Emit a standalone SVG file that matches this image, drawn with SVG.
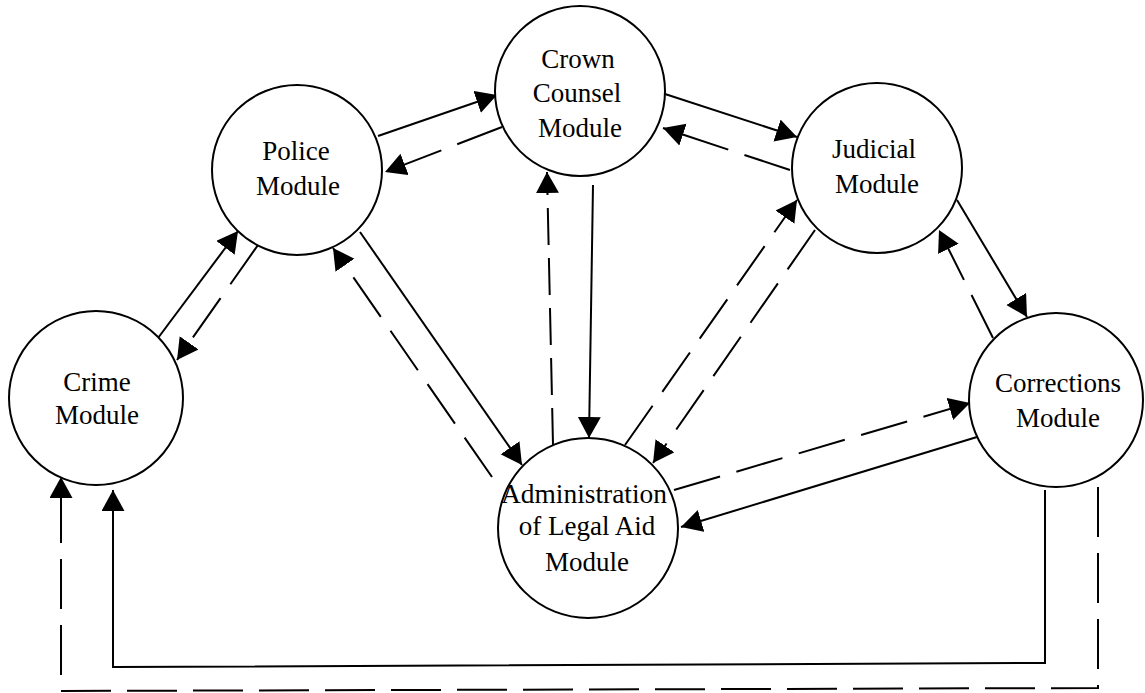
<svg xmlns="http://www.w3.org/2000/svg" width="1145" height="693" viewBox="0 0 1145 693">
  <style>
    .node { fill: #ffffff; stroke: #000000; stroke-width: 2; }
    .label { font-family: "Liberation Serif", "Times New Roman", serif; font-size: 27px; fill: #000000; text-anchor: middle; }
    .flow { fill: none; stroke: #000000; stroke-width: 2; }
    .solid { marker-end: url(#head); }
    .dash { stroke-dasharray: 48 17; marker-end: url(#head); }
    .dash-v { stroke-dasharray: 37 13; marker-end: url(#head); }
    .dash-loop { stroke-dasharray: 50 16; marker-end: url(#head); }
  </style>
  <defs>
    <marker id="head" markerUnits="userSpaceOnUse" markerWidth="22" markerHeight="24" refX="21" refY="11.5" orient="auto">
      <path d="M0,0 L21,11.5 L0,23 z" fill="#000000"/>
    </marker>
  </defs>

  <rect width="1145" height="693" fill="#ffffff"/>

  <!-- connectors -->
  <g id="connectors">
    <!-- Crime <-> Police -->
    <path class="flow solid" d="M158,338 L238,231"/>
    <path class="flow dash" d="M258,245 L177,360"/>
    <!-- Police <-> Crown Counsel -->
    <path class="flow solid" d="M378,136 L497,95"/>
    <path class="flow dash" d="M502,127 L385,172"/>
    <!-- Crown Counsel <-> Judicial -->
    <path class="flow solid" d="M665,94 L797,137"/>
    <path class="flow dash" d="M790,170 L663,128"/>
    <!-- Judicial <-> Corrections -->
    <path class="flow solid" d="M957,200 L1027,317"/>
    <path class="flow dash" d="M993,338 L939,230"/>
    <!-- Police <-> Legal Aid -->
    <path class="flow solid" d="M360,232 L522,465"/>
    <path class="flow dash" d="M492,477 L333,248"/>
    <!-- Crown Counsel <-> Legal Aid -->
    <path class="flow solid" d="M593,185 L589,438"/>
    <path class="flow dash-v" d="M553,445 L547,172"/>
    <!-- Judicial <-> Legal Aid -->
    <path class="flow dash" d="M625,445 L797,200"/>
    <path class="flow dash" d="M815,230 L653,463"/>
    <!-- Legal Aid <-> Corrections -->
    <path class="flow dash" d="M674,490 L970,403"/>
    <path class="flow solid" d="M977,437 L681,527"/>
    <!-- Corrections back to Crime -->
    <path class="flow solid" d="M1045,490 L1045,663 L113,667 L113,490"/>
    <path class="flow dash-loop" d="M1098,487 L1098,688 L61,691 L61,477"/>
  </g>

  <!-- nodes -->
  <g id="crime">
    <circle class="node" cx="96" cy="398" r="87"/>
    <text class="label" x="97" y="391">Crime</text>
    <text class="label" x="97" y="424">Module</text>
  </g>

  <g id="police">
    <circle class="node" cx="297" cy="170" r="85"/>
    <text class="label" x="296" y="160">Police</text>
    <text class="label" x="298" y="195">Module</text>
  </g>

  <g id="crown-counsel">
    <circle class="node" cx="580" cy="91" r="85"/>
    <text class="label" x="578" y="68">Crown</text>
    <text class="label" x="577" y="102">Counsel</text>
    <text class="label" x="580" y="137">Module</text>
  </g>

  <g id="judicial">
    <circle class="node" cx="877" cy="168" r="85"/>
    <text class="label" x="874" y="158">Judicial</text>
    <text class="label" x="877" y="193">Module</text>
  </g>

  <g id="corrections">
    <circle class="node" cx="1056" cy="400" r="87"/>
    <text class="label" x="1058" y="392">Corrections</text>
    <text class="label" x="1058" y="427">Module</text>
  </g>

  <g id="legal-aid">
    <circle class="node" cx="588" cy="528" r="90"/>
    <text class="label" x="584" y="503" textLength="166" lengthAdjust="spacingAndGlyphs">Administration</text>
    <text class="label" x="587" y="535">of Legal Aid</text>
    <text class="label" x="587" y="571">Module</text>
  </g>
</svg>
